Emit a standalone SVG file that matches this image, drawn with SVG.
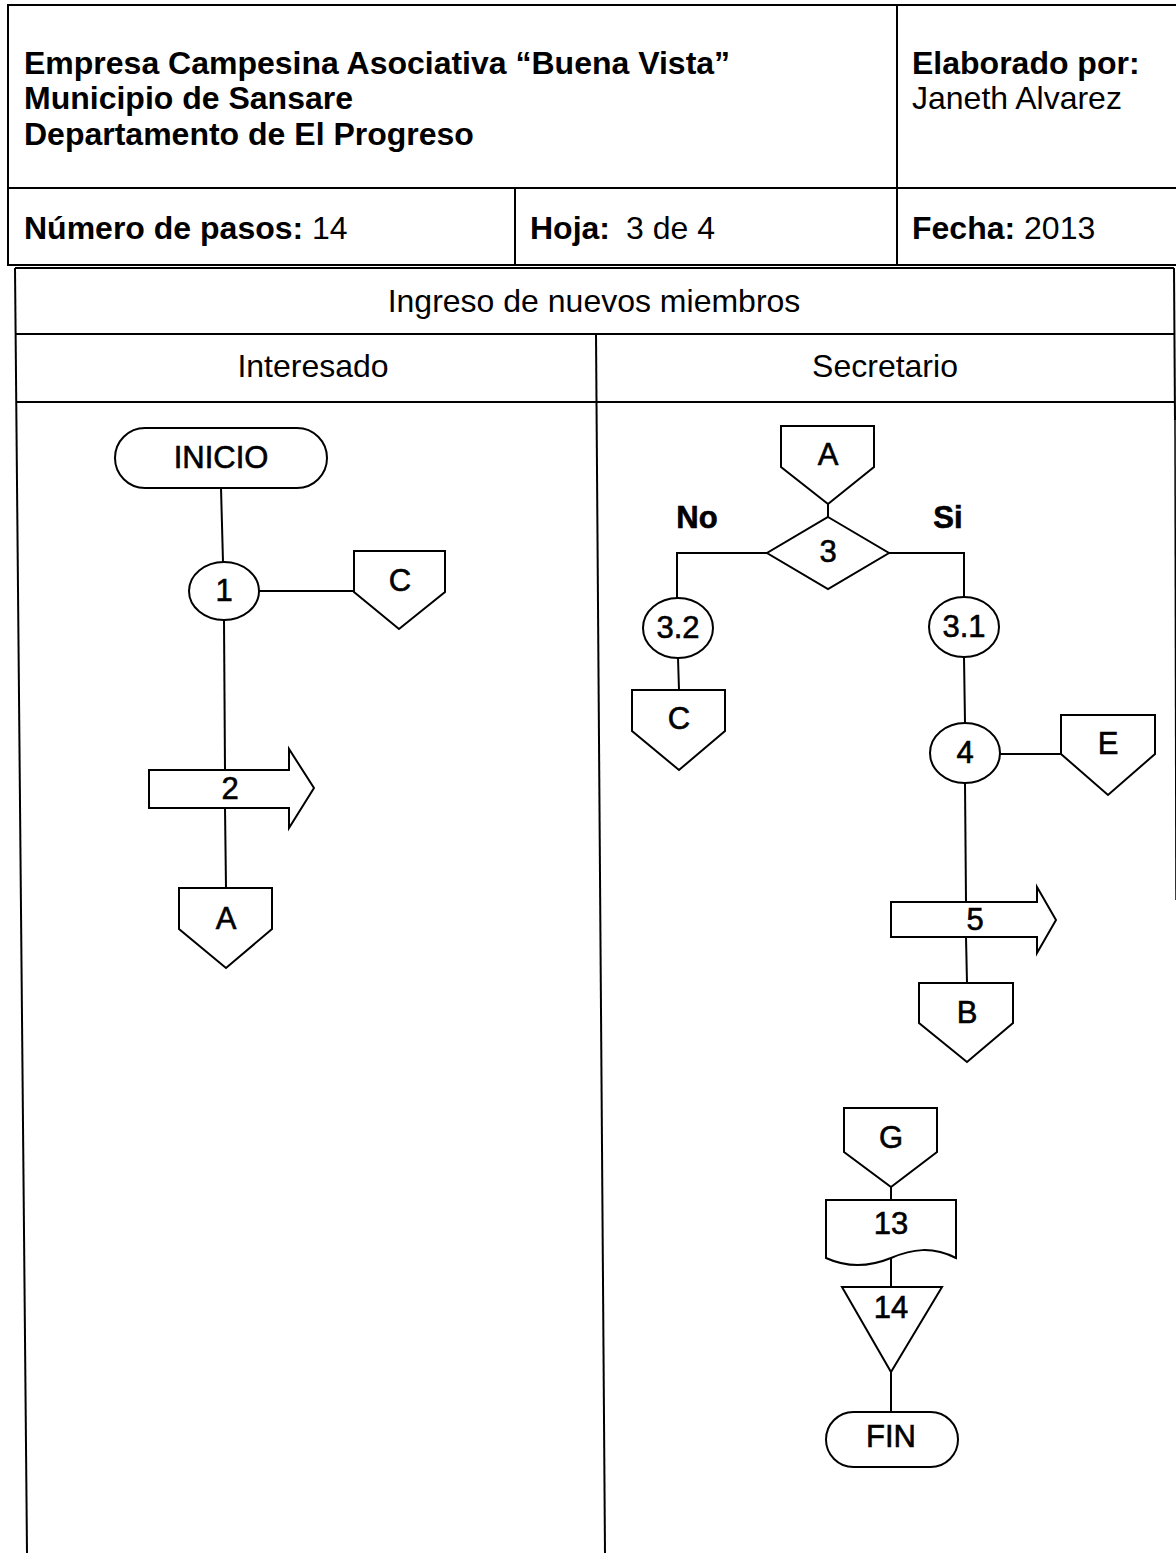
<svg xmlns="http://www.w3.org/2000/svg" width="1176" height="1553" viewBox="0 0 1176 1553">
  <style>
    .grid { stroke: #000; stroke-width: 2; fill: none; }
    .hd { font-family: "Liberation Sans", Arial, sans-serif; font-size: 32px; fill: #000; }
    .b { font-weight: bold; }
    .ctr { text-anchor: middle; }
    .shape { fill: #fff; stroke: #000; stroke-width: 2; stroke-linejoin: miter; }
    .lbl { font-family: "Liberation Sans", Arial, sans-serif; font-size: 31px; fill: #000; stroke: #000; stroke-width: 0.6; text-anchor: middle; }
    .edge { stroke: #000; stroke-width: 2; fill: none; }
  </style>

  <rect x="0" y="0" width="1176" height="1553" fill="#fff"/>

  <!-- Header block -->
  <g id="header">
    <line class="grid" x1="8" y1="5" x2="1176" y2="5"/>
    <line class="grid" x1="8" y1="4" x2="8" y2="266"/>
    <line class="grid" x1="8" y1="188" x2="1176" y2="188"/>
    <line class="grid" x1="8" y1="265" x2="1176" y2="265"/>
    <line class="grid" x1="897" y1="4" x2="897" y2="266"/>
    <line class="grid" x1="515" y1="188" x2="515" y2="266"/>

    <text class="hd b" x="24" y="74">Empresa Campesina Asociativa “Buena Vista”</text>
    <text class="hd b" x="24" y="109">Municipio de Sansare</text>
    <text class="hd b" x="24" y="145">Departamento de El Progreso</text>
    <text class="hd b" x="912" y="74">Elaborado por:</text>
    <text class="hd" x="912" y="109">Janeth Alvarez</text>
    <text class="hd" x="24" y="239"><tspan class="b">Número de pasos:</tspan> 14</text>
    <text class="hd" x="530" y="239"><tspan class="b">Hoja:</tspan><tspan dx="16">3 de 4</tspan></text>
    <text class="hd" x="912" y="239"><tspan class="b">Fecha:</tspan> 2013</text>
  </g>

  <!-- Process table with swimlanes -->
  <g id="lanes">
    <line class="grid" x1="15" y1="268" x2="1174" y2="268"/>
    <line class="grid" x1="15" y1="268" x2="27" y2="1553"/>
    <line class="grid" x1="1174" y1="268" x2="1175" y2="420"/>
    <line x1="1175" y1="420" x2="1176" y2="900" stroke="#000" stroke-width="1.5"/>
    <line class="grid" x1="16" y1="334" x2="1174" y2="334"/>
    <line class="grid" x1="16" y1="402" x2="1174" y2="402"/>
    <line class="grid" x1="596" y1="334" x2="605" y2="1553"/>
    <text class="hd ctr" x="594" y="312">Ingreso de nuevos miembros</text>
    <text class="hd ctr" x="313" y="377">Interesado</text>
    <text class="hd ctr" x="885" y="377">Secretario</text>
  </g>

  <!-- Connectors -->
  <g id="connectors">
    <line class="edge" x1="221" y1="488" x2="223" y2="562"/>
    <line class="edge" x1="259" y1="591" x2="354" y2="591"/>
    <line class="edge" x1="224" y1="620" x2="225" y2="770"/>
    <line class="edge" x1="225" y1="808" x2="226" y2="888"/>
    <line class="edge" x1="828" y1="504" x2="828" y2="517"/>
    <polyline class="edge" points="767,553 677,553 677,599"/>
    <line class="edge" x1="678" y1="658" x2="679" y2="690"/>
    <polyline class="edge" points="889,553 964,553 964,597"/>
    <line class="edge" x1="964" y1="657" x2="965" y2="723"/>
    <line class="edge" x1="1000" y1="754" x2="1061" y2="754"/>
    <line class="edge" x1="965" y1="783" x2="966" y2="902"/>
    <line class="edge" x1="966" y1="937" x2="967" y2="983"/>
    <line class="edge" x1="891" y1="1187" x2="891" y2="1200"/>
    <line class="edge" x1="891" y1="1258" x2="891" y2="1287"/>
    <line class="edge" x1="891" y1="1372" x2="891" y2="1412"/>
  </g>

  <!-- Interesado lane -->
  <g id="inicio">
    <rect class="shape" x="115" y="428" width="212" height="60" rx="30" ry="30"/>
    <text class="lbl" x="221" y="468">INICIO</text>
  </g>
  <g id="step1">
    <ellipse class="shape" cx="224" cy="591" rx="35" ry="29"/>
    <text class="lbl" x="224" y="601">1</text>
  </g>
  <g id="conn-c-left">
    <polygon class="shape" points="354,551 445,551 445,592 399,629 354,592"/>
    <text class="lbl" x="400" y="591">C</text>
  </g>
  <g id="step2">
    <polygon class="shape" points="149,770 289,770 289,749 314,788 289,828 289,808 149,808"/>
    <text class="lbl" x="230" y="799">2</text>
  </g>
  <g id="conn-a-out">
    <polygon class="shape" points="179,888 272,888 272,929 226,968 179,929"/>
    <text class="lbl" x="226" y="929">A</text>
  </g>

  <!-- Secretario lane -->
  <g id="conn-a-in">
    <polygon class="shape" points="781,426 874,426 874,467 828,504 781,467"/>
    <text class="lbl" x="828" y="465">A</text>
  </g>
  <g id="step3">
    <polygon class="shape" points="828,517 889,553 828,589 767,553"/>
    <text class="lbl" x="828" y="562">3</text>
    <text class="lbl" x="697" y="528" font-weight="bold" stroke-width="0">No</text>
    <text class="lbl" x="948" y="528" font-weight="bold" stroke-width="0">Si</text>
  </g>
  <g id="step3-2">
    <ellipse class="shape" cx="678" cy="628" rx="35" ry="30"/>
    <text class="lbl" x="678" y="638">3.2</text>
  </g>
  <g id="conn-c-right">
    <polygon class="shape" points="632,690 725,690 725,731 679,770 632,731"/>
    <text class="lbl" x="679" y="729">C</text>
  </g>
  <g id="step3-1">
    <ellipse class="shape" cx="964" cy="627" rx="35" ry="30"/>
    <text class="lbl" x="964" y="637">3.1</text>
  </g>
  <g id="step4">
    <ellipse class="shape" cx="965" cy="753" rx="35" ry="30"/>
    <text class="lbl" x="965" y="763">4</text>
  </g>
  <g id="conn-e">
    <polygon class="shape" points="1061,715 1155,715 1155,754 1108,795 1061,754"/>
    <text class="lbl" x="1108" y="754">E</text>
  </g>
  <g id="step5">
    <polygon class="shape" points="891,902 1037,902 1037,887 1056,920 1037,953 1037,937 891,937"/>
    <text class="lbl" x="975" y="930">5</text>
  </g>
  <g id="conn-b">
    <polygon class="shape" points="919,983 1013,983 1013,1023 967,1062 919,1023"/>
    <text class="lbl" x="967" y="1023">B</text>
  </g>
  <g id="conn-g">
    <polygon class="shape" points="844,1108 937,1108 937,1152 891,1187 844,1152"/>
    <text class="lbl" x="891" y="1148">G</text>
  </g>
  <g id="step13">
    <path class="shape" d="M826,1200 H956 V1258 C932,1246 912,1249 891,1258 C869,1267 848,1268 826,1258 Z"/>
    <text class="lbl" x="891" y="1234">13</text>
  </g>
  <g id="step14">
    <polygon class="shape" points="842,1287 942,1287 891,1372"/>
    <text class="lbl" x="891" y="1318">14</text>
  </g>
  <g id="fin">
    <rect class="shape" x="826" y="1412" width="132" height="55" rx="27.5" ry="27.5"/>
    <text class="lbl" x="891" y="1447">FIN</text>
  </g>
</svg>
